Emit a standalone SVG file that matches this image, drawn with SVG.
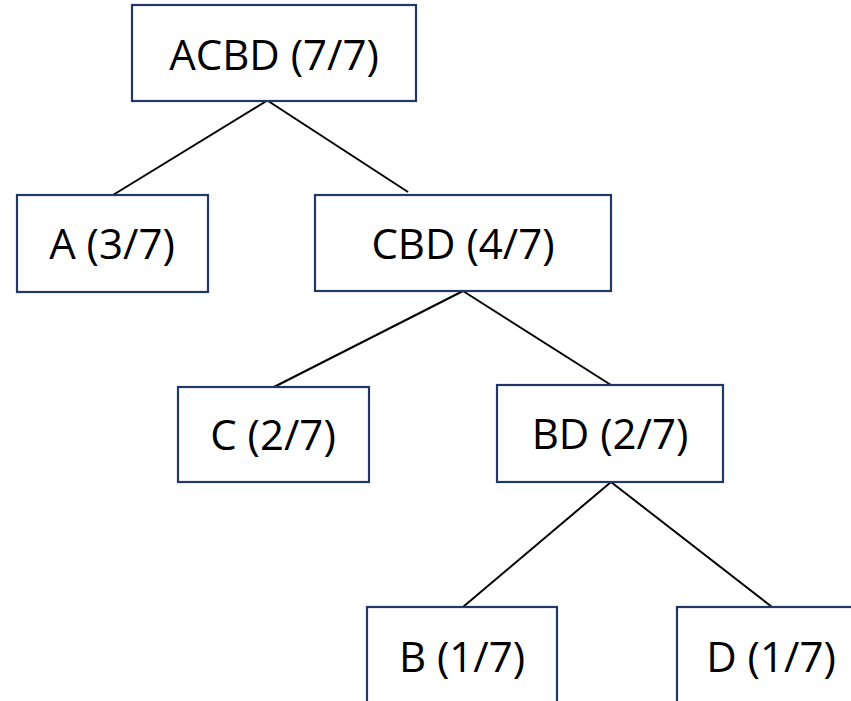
<svg xmlns="http://www.w3.org/2000/svg" width="851" height="701" viewBox="0 0 851 701">
<style>
.box{fill:#ffffff;stroke:#203864;stroke-width:2.2}
.lbl{font-family:"Open Sans","Liberation Sans",sans-serif;font-size:42px;fill:#000000;text-anchor:middle}
.edge{stroke:#000000;stroke-width:2;fill:none}
</style>
<rect width="851" height="701" fill="#ffffff"/>
<g id="connectors">
<line class="edge" x1="113" y1="195" x2="273" y2="97"/>
<line class="edge" x1="262" y1="97" x2="408" y2="192"/>
<line class="edge" x1="274" y1="387" x2="463" y2="291"/>
<line class="edge" x1="463" y1="291" x2="611" y2="385"/>
<line class="edge" x1="463" y1="607" x2="611" y2="482"/>
<line class="edge" x1="611" y1="482" x2="772" y2="607"/>
</g>
<g id="node-ACBD">
<rect class="box" x="132" y="5" width="284" height="96"/>
<text class="lbl" x="274" y="70">ACBD (7/7)</text>
</g>
<g id="node-A">
<rect class="box" x="17" y="195" width="191" height="97"/>
<text class="lbl" x="112" y="259">A (3/7)</text>
</g>
<g id="node-CBD">
<rect class="box" x="315" y="195" width="296" height="96"/>
<text class="lbl" x="463" y="259">CBD (4/7)</text>
</g>
<g id="node-C">
<rect class="box" x="178" y="387" width="191" height="95"/>
<text class="lbl" x="273" y="450">C (2/7)</text>
</g>
<g id="node-BD">
<rect class="box" x="497" y="385" width="226" height="97"/>
<text class="lbl" x="610" y="449">BD (2/7)</text>
</g>
<g id="node-B">
<rect class="box" x="367" y="607" width="190" height="120"/>
<text class="lbl" x="462" y="672">B (1/7)</text>
</g>
<g id="node-D">
<rect class="box" x="677" y="607" width="190" height="120"/>
<text class="lbl" x="771" y="672">D (1/7)</text>
</g>
</svg>
